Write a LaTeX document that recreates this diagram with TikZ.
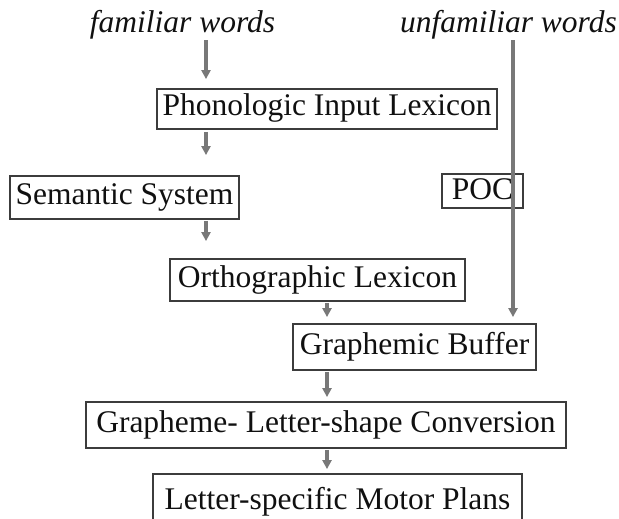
\documentclass[tikz,border=0pt]{standalone}
\usepackage{fontspec}
\setmainfont{Liberation Serif}
\usetikzlibrary{arrows.meta}
\definecolor{boxc}{HTML}{3C3C3C}
\definecolor{arrc}{HTML}{787878}
\definecolor{txtc}{HTML}{101010}
\begin{document}
\begin{tikzpicture}[x=1pt,y=-1pt,
  box/.style={draw=boxc, line width=1.8pt, inner sep=0pt, text=txtc,
    font=\fontsize{31.5}{36}\selectfont, text height=21pt, text depth=7pt},
  lbl/.style={inner sep=0pt, text=txtc, font=\fontsize{31.5}{36}\selectfont\itshape,
    text height=21pt, text depth=7pt},
  arr/.style={draw=arrc, line width=3.2pt, -{Triangle[length=9pt,width=9pt]}}]
\useasboundingbox (0,0) rectangle (619,519);
% column coordinates
\coordinate (c1) at (206,0);
\coordinate (c2) at (327,0);
\coordinate (c3) at (513,0);
% labels
\node[lbl, anchor=base] (fam) at (182.5,33) {familiar words};
\node[lbl, anchor=base east] (unf) at (617,33) {unfamiliar words};
% boxes
\node[box, minimum width=340pt, minimum height=40pt] (phon) at (327,109) {Phonologic Input Lexicon};
\node[box, minimum width=229pt, minimum height=43pt] (sem) at (124.5,197.5) {Semantic System};
\node[box, minimum width=81pt, minimum height=34pt, text depth=5pt] (poc) at (482.5,191) {POC};
\node[box, minimum width=295pt, minimum height=42pt] (orth) at (317.5,280) {Orthographic Lexicon};
\node[box, minimum width=243pt, minimum height=46pt] (graph) at (414.5,347) {Graphemic Buffer};
\node[box, minimum width=480pt, minimum height=46pt] (glc) at (326,425) {Grapheme- Letter-shape Conversion};
\node[box, minimum width=369pt, minimum height=56pt] (lsm) at (337.5,502) {Letter-specific Motor Plans};
% arrows
\draw[arr, shorten >=9pt] (fam.south -| c1) -- (phon.north -| c1);
\draw[arr, shorten <=2pt, shorten >=20pt] (phon.south -| c1) -- (sem.north -| c1);
\draw[arr, shorten <=1pt, shorten >=17pt] (sem.south -| c1) -- (orth.north -| c1);
\draw[arr, shorten <=1pt, shorten >=6pt] (orth.south -| c2) -- (graph.north -| c2);
\draw[arr, shorten >=6pt] (unf.south -| c3) -- (graph.north -| c3);
\draw[arr, shorten <=1pt, shorten >=4pt] (graph.south -| c2) -- (glc.north -| c2);
\draw[arr, shorten <=1pt, shorten >=4pt] (glc.south -| c2) -- (lsm.north -| c2);
\end{tikzpicture}
\end{document}
